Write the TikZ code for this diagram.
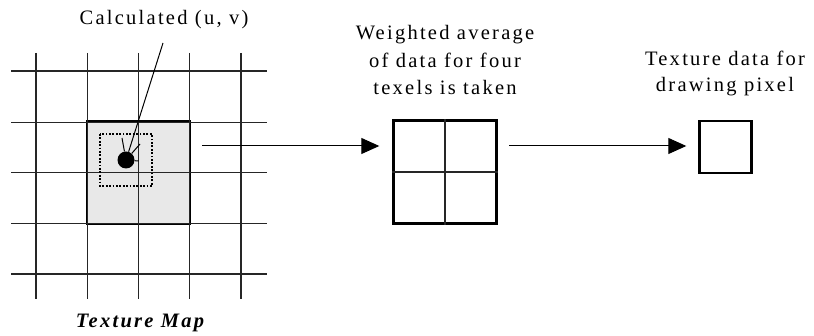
\documentclass[tikz,border=0pt]{standalone}
\usepackage{fontspec}
\setmainfont{Liberation Serif}[LetterSpace=11]
\usetikzlibrary{arrows.meta}

\tikzset{
  gridline/.style={line width=1.2pt, black!85},
  thickbox/.style={draw, line width=2.4pt, minimum size=#1, inner sep=0pt},
  flow/.style={line width=1pt, -{Triangle[length=18pt,width=16pt]}},
  caption/.style={font=\fontsize{20.5}{27.5}\selectfont, align=center, inner sep=0pt},
}

\begin{document}
\begin{tikzpicture}[x=1pt,y=-1pt]
\useasboundingbox (0,0) rectangle (814,336);

% Shaded block of four texels
\node[thickbox=102.5pt, fill=gray!18] (quad) at (138.5,172.6) {};

% Texture grid
\foreach \x in {36,87.25,138.5,189.75,241}
{
\draw[gridline] (\x,53) -- (\x,299);
}
\foreach \y in {71,122.2,172.6,223.2,274}
{
\draw[gridline] (11,\y) -- (267,\y);
}

% Sample area and calculated point
\draw[line width=1.6pt, dash pattern=on 1.8pt off 1.6pt] (100,134) rectangle (152,186);
\node[circle, fill, minimum size=17pt, inner sep=0pt] (uv) at (126,160) {};
\draw[line width=1pt] (uv) -- (122,138);
\draw[line width=1pt] (uv) -- (140,144);
\draw[line width=1pt] (uv) -- (138.5,161);

\coordinate (uvtip) at (163,43);
\draw[line width=1pt] (uv) -- (uvtip);
\node[caption, anchor=base] (uvlabel) at (164,25) {Calculated (u, v)};

\node[anchor=base, font=\fontsize{20.5}{24}\selectfont\bfseries\itshape] (maplabel) at (140,328) {Texture Map};

% Weighted average box
\node[thickbox=103pt] (avg) at (445,172) {};
\draw[gridline] (avg.north) -- (avg.south);
\draw[gridline] (avg.west) -- (avg.east);
\node[caption, anchor=base] (avglabel) at (445,95) {Weighted average\\of data for four\\texels is taken};

% Output pixel
\node[thickbox=52pt] (pix) at (725.5,147) {};
\node[caption, anchor=base, font=\fontsize{20.5}{26}\selectfont] (pixlabel) at (725,92) {Texture data for\\drawing pixel};

% Arrows
\coordinate (a1) at (202,146);
\draw[flow, shorten >=13pt] (a1) -- (avg.west |- a1);
\coordinate (a2) at (509,146);
\draw[flow, shorten >=12pt] (a2) -- (pix.west |- a2);

\end{tikzpicture}
\end{document}
